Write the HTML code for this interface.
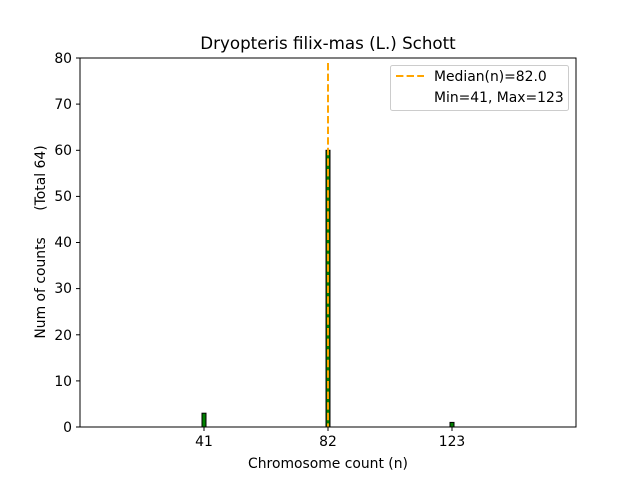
<!DOCTYPE html><html><head><style>body{margin:0;background:#fff}</style></head><body>
<svg width="640" height="480" xmlns="http://www.w3.org/2000/svg" font-family="DejaVu Sans, Liberation Sans, sans-serif" font-size="13.9">
<rect width="640" height="480" fill="#fff"/>
<text x="328" y="49" text-anchor="middle" font-size="16.7">Dryopteris filix-mas (L.) Schott</text>
<rect x="202" y="413.2" width="4" height="13.8" fill="green" stroke="#000" stroke-width="1"/>
<rect x="326" y="150.3" width="4" height="276.7" fill="green" stroke="#000" stroke-width="1"/>
<rect x="450" y="422.4" width="4" height="4.6" fill="green" stroke="#000" stroke-width="1"/>
<line x1="328" y1="63" x2="328" y2="427" stroke="orange" stroke-width="2" stroke-dasharray="7.4,3.2"/>
<rect x="80" y="58" width="496" height="369" fill="none" stroke="#000" stroke-width="1"/>
<g stroke="#000">
<line x1="80" y1="427" x2="76" y2="427"/><line x1="80" y1="380.9" x2="76" y2="380.9"/><line x1="80" y1="334.8" x2="76" y2="334.8"/><line x1="80" y1="288.6" x2="76" y2="288.6"/><line x1="80" y1="242.5" x2="76" y2="242.5"/><line x1="80" y1="196.4" x2="76" y2="196.4"/><line x1="80" y1="150.3" x2="76" y2="150.3"/><line x1="80" y1="104.1" x2="76" y2="104.1"/><line x1="80" y1="58" x2="76" y2="58"/>
<line x1="204" y1="427" x2="204" y2="431"/><line x1="328" y1="427" x2="328" y2="431"/><line x1="452" y1="427" x2="452" y2="431"/>
</g>
<g text-anchor="end">
<text x="72" y="432">0</text><text x="72" y="386">10</text><text x="72" y="340">20</text><text x="72" y="293">30</text><text x="72" y="247">40</text><text x="72" y="201">50</text><text x="72" y="155">60</text><text x="72" y="109">70</text><text x="72" y="63">80</text>
</g>
<g text-anchor="middle">
<text x="204" y="446">41</text><text x="328" y="446">82</text><text x="452" y="446">123</text>
<text x="328" y="468">Chromosome count (n)</text>
</g>
<text transform="translate(45,242) rotate(-90)" text-anchor="middle" style="white-space:pre" xml:space="preserve">Num of counts      (Total 64)</text>
<rect x="390.5" y="65.5" width="178" height="45" rx="2" fill="#fff" stroke="#ccc"/>
<line x1="396" y1="76" x2="424" y2="76" stroke="orange" stroke-width="2" stroke-dasharray="7.4,3.2"/>
<text x="434" y="81">Median(n)=82.0</text>
<text x="434" y="102">Min=41, Max=123</text>
</svg>
</body></html>
